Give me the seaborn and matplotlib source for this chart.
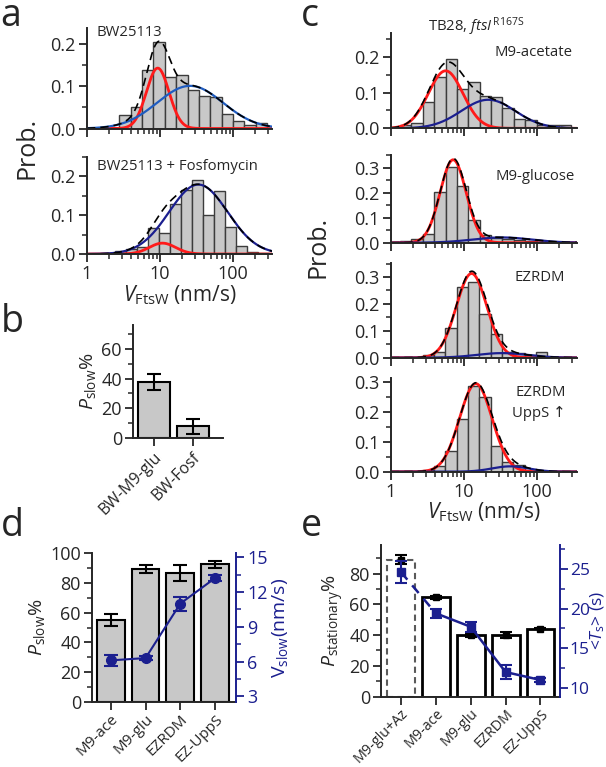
import numpy as np
import matplotlib
matplotlib.use("Agg")
import matplotlib.pyplot as plt
import seaborn as sns
from matplotlib.ticker import MultipleLocator, LogLocator, NullFormatter, FuncFormatter

sns.set_style("ticks")
plt.rcParams["font.family"] = ["Open Sans", "DejaVu Sans"]
plt.rcParams["mathtext.fontset"] = "custom"
plt.rcParams["mathtext.rm"] = "Open Sans"
plt.rcParams["mathtext.it"] = "Open Sans:italic"
plt.rcParams["axes.linewidth"] = 1.4

# === Data ===
# histograms: first bin edge (log10 nm/s), bin width (decades), probabilities
a1_bin0, a1_binw = 0.443, 0.1556
a1_prob = [0.033, 0.051, 0.139, 0.204, 0.123, 0.127, 0.091, 0.078, 0.074, 0.035, 0.017, 0.009, 0.013]
a2_bin0, a2_binw = 0.384, 0.151
a2_prob = [0.008, 0.013, 0.018, 0.067, 0.055, 0.130, 0.166, 0.190, 0.100, 0.162, 0.070, 0.020, 0.006, 0.003]
c1_bin0, c1_binw = 0.123, 0.156
c1_prob = [0.009, 0.014, 0.073, 0.143, 0.193, 0.111, 0.129, 0.090, 0.088, 0.056, 0.026, 0.022, 0.009, 0.008, 0.008]
c2_bin0, c2_binw = 0.123, 0.156
c2_prob = [0.007, 0.013, 0.035, 0.204, 0.301, 0.228, 0.092, 0.030, 0.020, 0.015, 0.011, 0.005]
c3_bin0, c3_binw = 0.434, 0.155
c3_prob = [0.010, 0.020, 0.109, 0.261, 0.283, 0.162, 0.087, 0.020, 0.016, 0.010, 0.021]
c4_bin0, c4_binw = 0.434, 0.155
c4_prob = [0.005, 0.020, 0.070, 0.178, 0.287, 0.250, 0.088, 0.031, 0.022]

# Gaussian fits in log space: amplitude, peak (nm/s), width (decades)
a1_slow, a1_fast = [0.143, 9.3, 0.155], [0.101, 25.8, 0.45]
a2_slow, a2_fast = [0.028, 10.8, 0.18], [0.179, 33.5, 0.40]
c1_slow, c1_fast = [0.161, 5.6, 0.237], [0.080, 21.5, 0.37]
c2_slow, c2_fast = [0.331, 7.1, 0.178], [0.021, 33.0, 0.40]
c3_slow, c3_fast = [0.313, 12.7, 0.21], [0.017, 33.0, 0.35]
c4_slow, c4_fast = [0.296, 14.5, 0.223], [0.018, 43.0, 0.25]

b_labels = ["BW-M9-glu", "BW-Fosf"]
b_pslow = [37.6, 7.9]
b_err = [5.4, 4.9]

d_labels = ["M9-ace", "M9-glu", "EZRDM", "EZ-UppS"]
d_pslow = [55.0, 89.3, 86.6, 92.4]
d_pslow_err = [4.0, 2.6, 5.5, 2.2]
d_vslow = [6.1, 6.3, 11.0, 13.2]
d_vslow_err = [0.5, 0.2, 0.6, 0.27]

e_labels = ["M9-glu+Az", "M9-ace", "M9-glu", "EZRDM", "EZ-UppS"]
e_pstat = [89.3, 64.8, 40.0, 40.0, 44.3]
e_pstat_err = [3.0, 1.0, 1.0, 2.0, 0.6]
e_ts = [24.6, 19.4, 17.7, 12.0, 11.0]
e_ts_err = [1.4, 0.6, 0.6, 0.9, 0.3]

# === Style ===
W, H = 606, 767
bar_gray = "#c8c8c8"
edge_gray = "#3c3c3c"
red = "#ff1a1a"
blue_a = "#1f5cc0"
navy = "#1b1f8f"


def rect(left, right, bottom, top):
    return [left / W, 1 - bottom / H, (right - left) / W, (bottom - top) / H]


def gauss(p, x):
    amp, mu, s = p
    return amp * np.exp(-(np.log10(x) - np.log10(mu)) ** 2 / (2 * s ** 2))


def hist_panel(ax, bin0, binw, prob, slow, fast, ymax, xmax, fast_color, show_x):
    edges = bin0 + binw * np.arange(len(prob) + 1)
    centers = 10 ** (edges[:-1] + binw / 2)
    sns.histplot(x=centers, weights=prob, bins=list(edges), log_scale=True, stat="count",
                 color=bar_gray, edgecolor=edge_gray, linewidth=1, alpha=1, ax=ax)
    xs = np.logspace(0, np.log10(xmax), 500)
    ax.plot(xs, gauss(slow, xs), color=red, lw=2)
    ax.plot(xs, gauss(fast, xs), color=fast_color, lw=1.6)
    ax.plot(xs, gauss(slow, xs) + gauss(fast, xs), color="black", lw=1.2, ls=(0, (5, 3)))
    ax.set_xlim(1, xmax)
    ax.set_ylim(0, ymax)
    ax.set_xlabel("")
    ax.set_ylabel("")
    ax.xaxis.set_major_locator(LogLocator(base=10, numticks=10))
    ax.xaxis.set_minor_locator(LogLocator(base=10, subs=np.arange(2, 10), numticks=10))
    ax.xaxis.set_major_formatter(FuncFormatter(lambda v, p: f"{v:g}"))
    ax.xaxis.set_minor_formatter(NullFormatter())
    ax.yaxis.set_major_locator(MultipleLocator(0.1))
    ax.yaxis.set_minor_locator(MultipleLocator(0.05))
    sns.despine(ax=ax)
    ax.tick_params(which="major", direction="out", length=6, width=1.3, labelsize=13, pad=2)
    ax.tick_params(which="minor", direction="out", length=3.5, width=1.1)
    ax.tick_params(axis="x", labelbottom=show_x)


fig = plt.figure(figsize=(W / 100, H / 100), dpi=100)

# === Panel a ===
ax_a1 = fig.add_axes(rect(87, 272, 128.5, 28))
hist_panel(ax_a1, a1_bin0, a1_binw, a1_prob, a1_slow, a1_fast, 0.238, 342, blue_a, False)
ax_a1.text(97 / W, 1 - 33 / H, "BW25113", transform=fig.transFigure, fontsize=10.7, va="center")
ax_a2 = fig.add_axes(rect(87, 272, 254, 157))
hist_panel(ax_a2, a2_bin0, a2_binw, a2_prob, a2_slow, a2_fast, 0.25, 342, navy, True)
ax_a2.text(97 / W, 1 - 166 / H, "BW25113 + Fosfomycin", transform=fig.transFigure,
           fontsize=10.7, va="center")
ax_a2.set_xlabel(r"$V_{\mathrm{FtsW}}$ (nm/s)", fontsize=15, labelpad=0)
fig.text(27 / W, 1 - 148 / H, "Prob.", rotation=90, fontsize=18, ha="center", va="center")

# === Panel b ===
ax_b = fig.add_axes(rect(133, 223, 438, 325))
sns.barplot(x=b_labels, y=b_pslow, color=bar_gray, saturation=1, width=0.83,
            edgecolor="black", linewidth=1.5, ax=ax_b)
ax_b.errorbar(range(len(b_labels)), b_pslow, yerr=b_err, fmt="none", ecolor="black",
              elinewidth=1.5, capsize=5, capthick=1.5)
ax_b.set_xlim(-0.55, 1.79)
ax_b.set_ylim(0, 76)
ax_b.yaxis.set_major_locator(MultipleLocator(20))
ax_b.yaxis.set_minor_locator(MultipleLocator(10))
sns.despine(ax=ax_b)
ax_b.tick_params(which="major", direction="out", length=6, width=1.3, labelsize=13, pad=2)
ax_b.tick_params(which="minor", direction="out", length=3.5, width=1.1)
ax_b.tick_params(axis="x", labelsize=11.5)
plt.setp(ax_b.get_xticklabels(), rotation=45, ha="right", rotation_mode="anchor")
ax_b.set_ylabel(r"$P_{\mathrm{slow}}$%", fontsize=14, labelpad=2)

# === Panel c ===
c_rows = [
    (128.3, 33, c1_bin0, c1_binw, c1_prob, c1_slow, c1_fast, 0.267),
    (242.7, 155, c2_bin0, c2_binw, c2_prob, c2_slow, c2_fast, 0.35),
    (357.7, 263, c3_bin0, c3_binw, c3_prob, c3_slow, c3_fast, 0.352),
    (471.7, 378, c4_bin0, c4_binw, c4_prob, c4_slow, c4_fast, 0.315),
]
c_axes = []
for i, (bot, top, b0, bw, pr, sl, fa, ym) in enumerate(c_rows):
    ax = fig.add_axes(rect(391, 577, bot, top))
    hist_panel(ax, b0, bw, pr, sl, fa, ym, 353, navy, i == 3)
    c_axes.append(ax)
c_axes[3].set_xlabel(r"$V_{\mathrm{FtsW}}$ (nm/s)", fontsize=15, labelpad=0)
fig.text(476 / W, 1 - 27 / H, r"TB28, $\mathit{ftsI}^{\,\mathrm{R167S}}$", fontsize=10.7,
         ha="center", va="center")
fig.text(572 / W, 1 - 52 / H, "M9-acetate", fontsize=10.7, ha="right", va="center")
fig.text(575 / W, 1 - 177 / H, "M9-glucose", fontsize=10.7, ha="right", va="center")
fig.text(565 / W, 1 - 277 / H, "EZRDM", fontsize=10.7, ha="right", va="center")
fig.text(566 / W, 1 - 393 / H, "EZRDM", fontsize=10.7, ha="right", va="center")
fig.text(566 / W, 1 - 414 / H, "UppS ↑", fontsize=10.7, ha="right", va="center")
fig.text(318 / W, 1 - 247 / H, "Prob.", rotation=90, fontsize=18, ha="center", va="center")

# === Panel d ===
ax_d = fig.add_axes(rect(92, 236, 702, 553))
sns.barplot(x=d_labels, y=d_pslow, color=bar_gray, saturation=1, width=0.8,
            edgecolor="black", linewidth=1.5, ax=ax_d)
ax_d.errorbar(range(len(d_labels)), d_pslow, yerr=d_pslow_err, fmt="none", ecolor="black",
              elinewidth=1.5, capsize=5, capthick=1.5)
ax_d.set_xlim(-0.54, 3.6)
ax_d.set_ylim(0, 100)
ax_d.yaxis.set_major_locator(MultipleLocator(20))
ax_d.yaxis.set_minor_locator(MultipleLocator(10))
ax_d.spines["top"].set_visible(False)
ax_d.spines["right"].set_visible(False)
ax_d.tick_params(which="major", direction="out", length=6, width=1.3, labelsize=13, pad=2)
ax_d.tick_params(which="minor", direction="out", length=3.5, width=1.1)
ax_d.tick_params(axis="x", labelsize=11, pad=1)
plt.setp(ax_d.get_xticklabels(), rotation=45, ha="right", rotation_mode="anchor")
ax_d.set_ylabel(r"$P_{\mathrm{slow}}$%", fontsize=14, labelpad=2)

ax_d2 = ax_d.twinx()
ax_d2.errorbar(range(len(d_labels)), d_vslow, yerr=d_vslow_err, fmt="o-", color=navy,
               ms=7, lw=1.5, elinewidth=1.5, capsize=5, capthick=1.5)
ax_d2.set_ylim(2.51, 15.36)
ax_d2.yaxis.set_major_locator(MultipleLocator(3))
ax_d2.yaxis.set_minor_locator(MultipleLocator(1.5))
for s in ["top", "left", "bottom"]:
    ax_d2.spines[s].set_visible(False)
ax_d2.spines["right"].set_color(navy)
ax_d2.tick_params(which="major", direction="out", length=6, width=1.3, labelsize=13,
                  colors=navy, pad=2)
ax_d2.tick_params(which="minor", direction="out", length=3.5, width=1.1, colors=navy)
ax_d2.set_ylabel(r"V$_{\mathrm{slow}}$(nm/s)", fontsize=14, color=navy, labelpad=2)

# === Panel e ===
ax_e = fig.add_axes(rect(381, 560, 696.5, 545))
sns.barplot(x=e_labels, y=e_pstat, color="white", saturation=1, width=0.8,
            edgecolor="black", linewidth=2, ax=ax_e)
ax_e.patches[0].set_edgecolor("#5a5a5a")
ax_e.patches[0].set_linestyle((0, (3, 2)))
ax_e.patches[0].set_linewidth(1.5)
ax_e.errorbar(range(len(e_labels)), e_pstat, yerr=e_pstat_err, fmt="s", color="black",
              ms=5, elinewidth=1.5, capsize=4, capthick=1.5)
ax_e.set_xlim(-0.57, 4.56)
ax_e.set_ylim(0, 98.8)
ax_e.yaxis.set_major_locator(MultipleLocator(20))
ax_e.yaxis.set_minor_locator(MultipleLocator(10))
ax_e.spines["top"].set_visible(False)
ax_e.spines["right"].set_visible(False)
ax_e.tick_params(which="major", direction="out", length=6, width=1.3, labelsize=13, pad=2)
ax_e.tick_params(which="minor", direction="out", length=3.5, width=1.1)
ax_e.tick_params(axis="x", labelsize=10.3, pad=1)
plt.setp(ax_e.get_xticklabels(), rotation=45, ha="right", rotation_mode="anchor")
ax_e.set_ylabel(r"$P_{\mathrm{stationary}}$%", fontsize=14, labelpad=2)

ax_e2 = ax_e.twinx()
xe = np.arange(len(e_labels))
ax_e2.plot(xe[:2], e_ts[:2], color=navy, lw=1.8, ls=(0, (4, 3)))
ax_e2.plot(xe[1:], e_ts[1:], color=navy, lw=1.8)
ax_e2.errorbar(xe, e_ts, yerr=e_ts_err, fmt="s", color=navy, ms=6,
               elinewidth=1.5, capsize=4, capthick=1.5)
ax_e2.set_ylim(8.92, 28.0)
ax_e2.yaxis.set_major_locator(MultipleLocator(5))
ax_e2.yaxis.set_minor_locator(MultipleLocator(2.5))
for s in ["top", "left", "bottom"]:
    ax_e2.spines[s].set_visible(False)
ax_e2.spines["right"].set_color(navy)
ax_e2.tick_params(which="major", direction="out", length=6, width=1.3, labelsize=12.5,
                  colors=navy, pad=1)
ax_e2.tick_params(which="minor", direction="out", length=3.5, width=1.1, colors=navy)
ax_e2.set_ylabel(r"<$T_{\mathrm{s}}$> (s)", fontsize=12.5, color=navy, labelpad=-1)

# === Panel letters (mathtext keeps the box tight to the glyph) ===
for letter, x, y in [("a", 0, 26), ("b", 0, 332), ("c", 300, 26), ("d", 0, 536), ("e", 300, 536)]:
    fig.text(x / W, 1 - y / H, r"$\mathrm{" + letter + "}$", fontsize=27, ha="left", va="baseline")

fig.savefig("out.png", dpi=100)
